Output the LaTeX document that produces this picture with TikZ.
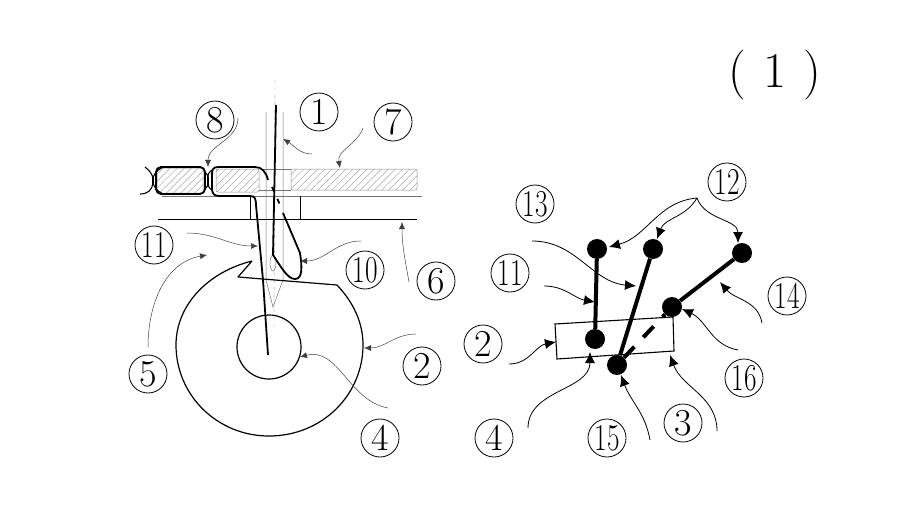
\documentclass[tikz,border=0pt]{standalone}
\usetikzlibrary{arrows.meta,patterns.meta}
\newcommand{\twodig}[1]{\scalebox{.72}[1]{#1}}
\tikzset{
  num/.style={circle, draw, line width=.8pt, minimum size=38pt, inner sep=0pt, font=\fontsize{38}{38}\selectfont},
  leader/.style={draw=black!75, line width=.5pt, -{Latex[length=7pt,width=6pt]}},
  leaderb/.style={draw=black, line width=.8pt, -{Latex[length=11pt,width=10pt]}},
  cloth/.style={draw=black!45, line width=.5pt, rounded corners=2pt, pattern={Lines[angle=45,distance=5pt,line width=.5pt]}, pattern color=black!35},
  guide/.style={draw=black!55, line width=.5pt},
  thread/.style={line width=1.8pt, line join=round},
  rod/.style={line width=4pt},
  pin/.style={circle, fill=black, minimum size=20pt, inner sep=0pt}
}
\begin{document}
\begin{tikzpicture}[x=1pt, y=-1pt]
    \useasboundingbox (0,0) rectangle (921,508);

    % Number labels, left part
    \foreach \n/\x/\y/\t in {
        one/319/112/1, seven/393/122/7, eight/215/120/8, ten/365/270/\twodig{10},
        six/436/281/6, elevenL/154/245/\twodig{11}, five/148/374/5, twoL/422/366/2, fourL/380/438/4} {
        \node[num] (\n) at (\x,\y) {\t};
    }

    % Number labels, right part
    \foreach \n/\x/\y/\t in {
        twelve/727/182/\twodig{12}, thirteen/535/204/\twodig{13}, elevenR/510/273/\twodig{11},
        fourteen/787/296/\twodig{14}, twoR/483/344/2, sixteen/744/378/\twodig{16},
        three/683/423/3, fourR/494/438/4, fifteen/607/438/\twodig{15}} {
        \node[num] (\n) at (\x,\y) {\t};
    }

    % Title
    \node[font=\fontsize{50}{50}\selectfont, inner sep=0pt] (title) at (775,75) {(\hspace{.35em}1\hspace{.35em})};

    % Cloth
    \draw[cloth] (157,168) rectangle (203,193);
    \draw[cloth] (216,169) rectangle (259,192);
    \draw[cloth] (291,169) rectangle (417,190);

    % Plate and guide lines
    \draw[guide] (263,169) -- (291,169);
    \draw[guide] (259,190) -- (291,190);
    \draw[guide] (162,196) -- (422,196);
    \draw[line width=.9pt] (158,219) -- (417,219);
    \draw[line width=.6pt] (250,196) -- (250,219);
    \draw[line width=.6pt] (300,196) -- (300,219);

    % Needle
    \draw[guide] (266,112) -- (266,280) -- (273,307) -- (283,280) -- (283,112);
    \draw[black!40, line width=.4pt, dash dot] (275,80) -- (274,330);
    \draw[guide] (273,263) ellipse (3 and 8);

    % Wheel
    \draw[line width=1.2pt, line join=round] (252,261) -- (238,277) -- (337,285)
        .. controls (353,302) and (363,322) .. (363,345)
        .. controls (363,395) and (322,436) .. (269,436)
        .. controls (217,436) and (176,395) .. (176,345)
        .. controls (176,305) and (208,272) .. (252,261);
    \draw[line width=1.2pt] (269,347) circle (32);

    % Thread
    \draw[thread] (276,105) -- (273,255) .. controls (280,265) and (287,279) .. (295,279)
        .. controls (303,279) and (302,266) .. (300,253) -- (283,213);
    \draw[thread, dash pattern=on 5pt off 8pt] (272,187) -- (281,207);
    \draw[thread] (268,180) .. controls (266,172) and (262,167) .. (255,167) -- (218,167)
        .. controls (213,167) and (212,170) .. (212,174) -- (212,188)
        .. controls (212,194) and (214,196) .. (220,196) -- (250,196)
        .. controls (255,196) and (256,199) .. (256,205) -- (263,280) -- (268,355);
    \draw[thread, rounded corners=5pt] (156,167) rectangle (205,194);
    \draw[line width=2.6pt] (153,177) -- (153,184);
    \draw[line width=2.6pt] (208,177) -- (208,184);
    \draw[line width=1.1pt] (212,170) .. controls (209,172) and (208,174) .. (208,178);
    \draw[line width=1.1pt] (212,190) .. controls (209,188) and (208,186) .. (208,183);
    \draw[line width=1.1pt] (205,172) .. controls (207,174) and (208,175) .. (208,178);
    \draw[line width=1.1pt] (205,189) .. controls (207,187) and (208,186) .. (208,183);
    \draw[line width=1.1pt] (163,167) .. controls (157,170) and (154,174) .. (153,178);
    \draw[line width=1.1pt] (163,194) .. controls (157,191) and (154,187) .. (153,183);
    \draw[line width=1.1pt] (145,167) .. controls (150,171) and (152,174) .. (153,178);
    \draw[line width=1.1pt] (140,194) .. controls (148,194) and (152,190) .. (153,183);

    % Free ends and targets of the left leaders
    \foreach \n/\x/\y in {
        a1/312/154, b1/283/139, a7/363/128, b7/340/168, a8/238/118, b8/208/167,
        a6/409/282, b6/402/222, a10/361/241, b10/300/261, a11/187/233, b11/258/246,
        a5/148/347, b5/207/255, a2/416/334, b2/364/348, a4/388/408, b4/300/357} {
        \coordinate (\n) at (\x,\y);
    }
    \foreach \s/\e/\o/\i in {
        a1/b1/180/-30, a7/b7/-110/100, a8/b8/-90/90, a6/b6/100/-90, a10/b10/180/0,
        a11/b11/0/180, a5/b5/90/190, a2/b2/180/0, a4/b4/170/15} {
        \draw[leader] (\s) to[out=\o, in=\i] (\e);
    }

    % Linkage
    \draw[line width=1.1pt] (555,324) -- (673,317) -- (674,351) -- (557,359) -- cycle;
    \node[pin] (p1) at (597,249) {};
    \node[pin] (p2) at (653,249) {};
    \node[pin] (p3) at (742,253) {};
    \node[pin] (p4) at (672,307) {};
    \node[pin] (p5) at (595,339) {};
    \node[pin] (p6) at (617,365) {};
    \draw[rod] (p1) -- (p5);
    \draw[rod] (p2) -- (p6);
    \draw[rod] (p3) -- (p4);
    \draw[rod, dash pattern=on 15pt off 13pt] (p6) -- (p4);

    % Free ends and targets of the right leaders
    \foreach \n/\x/\y in {
        c12/697/198, d1/609/247, d2/657/239, d3/738/243, c13/532/241, d13/636/286,
        c11/544/286, d11/595/302, c14/762/323, d14/720/282, c16/738/350, d16/682/309,
        c2/509/364, d22/556/342, c4/528/428, d4/590/352, c15/650/440, d15/621/375,
        c3/717/431, d33/670/355} {
        \coordinate (\n) at (\x,\y);
    }
    \foreach \s/\e/\o/\i in {
        c12/d1/185/15, c12/d2/-120/70, c12/d3/-70/90, c13/d13/0/175, c11/d11/0/170,
        c14/d14/100/-50, c16/d16/170/-25, c2/d22/0/190, c4/d4/90/-90, c15/d15/100/-70,
        c3/d33/90/-70} {
        \draw[leaderb] (\s) to[out=\o, in=\i] (\e);
    }
\end{tikzpicture}
\end{document}
